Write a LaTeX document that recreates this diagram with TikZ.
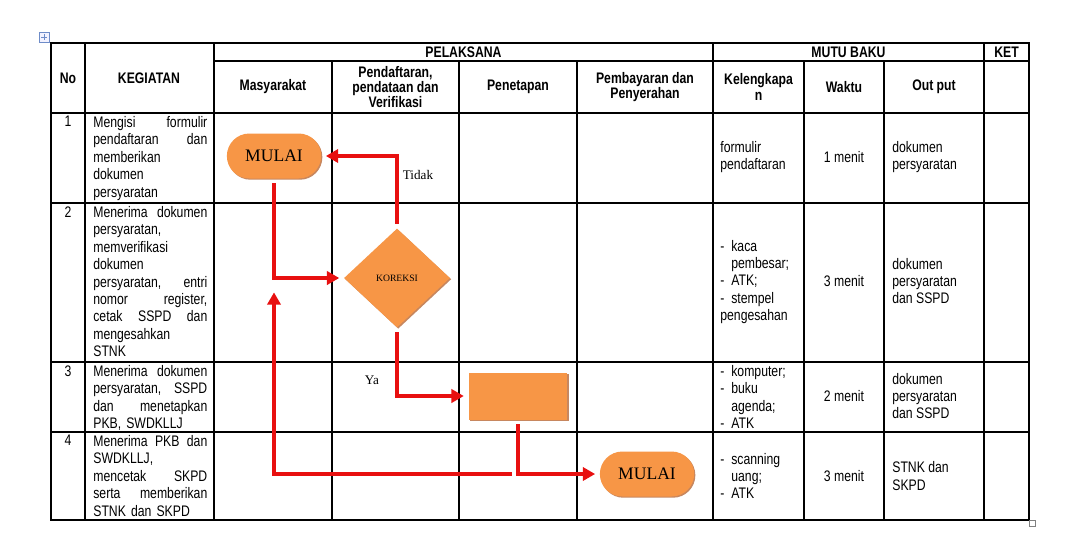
\documentclass[tikz,border=0pt]{standalone}
\usepackage{fontspec}
\setmainfont{Liberation Serif}
\newfontfamily\cellfont{Liberation Sans}[FakeStretch=0.8]
\usepackage{tikz}
\usetikzlibrary{shapes.geometric, shapes.misc, arrows.meta, shadows, calc}
\definecolor{wdorange}{RGB}{247,150,70}
\definecolor{wdred}{RGB}{232,16,16}
\definecolor{wdshade}{RGB}{185,105,55}
\definecolor{wdblue}{RGB}{110,140,200}
\newcommand{\lsdash}{\makebox[0.22cm][l]{-}}
\newcommand{\lsind}{\hspace*{0.22cm}}
\tikzset{
  cell/.style={font=\cellfont\fontsize{8.7}{9.9}\selectfont, inner sep=0pt, align=left},
  head/.style={font=\cellfont\bfseries\fontsize{8.7}{8.8}\selectfont, inner sep=0pt, align=center},
  shade/.style={drop shadow={shadow xshift=0.7pt, shadow yshift=-0.7pt, fill=wdshade, opacity=0.8}},
  term/.style={rounded rectangle, fill=wdorange, shade, minimum width=2.12cm, minimum height=0.9cm, font=\fontsize{10}{12}\selectfont},
  flow/.style={draw=wdred, line width=1.9pt, -{Triangle[length=7pt,width=7.5pt]}, shorten >=2.5pt, shorten <=2.5pt},
  lbl/.style={font=\fontsize{7.5}{9}\selectfont, inner sep=0pt}
}
\begin{document}
\begin{tikzpicture}[x=0.02cm, y=-0.02cm]
\fill[white] (0,0) rectangle (1071,535);
\useasboundingbox (0,0) rectangle (1071,535);

% Table grid
\draw[line width=0.6pt] (51,43) rectangle (1029,520);
\draw[line width=0.6pt] (214,61) -- (1029,61);
\foreach \y in {113,203,362,432}
  \draw[line width=0.6pt] (51,\y) -- (1029,\y);
\foreach \x in {85,214,713,984}
  \draw[line width=0.6pt] (\x,43) -- (\x,520);
\foreach \x in {332,459,577,804,884}
  \draw[line width=0.6pt] (\x,61) -- (\x,520);

% Word handles
\draw[wdblue, fill=blue!5] (39,32) rectangle (49,42);
\draw[wdblue, line width=0.4pt] (41,37) -- (47,37) (44,34) -- (44,40);
\draw[gray, line width=0.4pt] (1029,520) rectangle (1035,526);

% Header
\node[head] (hno) at (68,78) {No};
\node[head] (hkeg) at (149,78) {KEGIATAN};
\node[head] (hpel) at (463.5,52) {PELAKSANA};
\node[head] (hmutu) at (848.5,52) {MUTU BAKU};
\node[head] (hket) at (1006.5,52) {KET};
\node[head] (hmas) at (273,87) {Masyarakat};
\node[head] (hpend) at (395.5,87) {Pendaftaran,\\pendataan dan\\Verifikasi};
\node[head] (hpen) at (518,87) {Penetapan};
\node[head] (hpemb) at (645,87) {Pembayaran dan\\Penyerahan};
\node[head] (hkel) at (758.5,87) {Kelengkapa\\n};
\node[head] (hwak) at (844,87) {Waktu};
\node[head] (hout) at (934,87) {Out put};

% No and Kegiatan
\node[cell, anchor=north] (n1) at (68,116) {1};
\node[cell, anchor=north] (n2) at (68,206) {2};
\node[cell, anchor=north] (n3) at (68,365) {3};
\node[cell, anchor=north] (n4) at (68,435) {4};
\node[cell, anchor=north west, text width=2.28cm] (k1) at (93,116)
  {Mengisi\hfill formulir\\pendaftaran\hfill dan\\memberikan\\dokumen\\persyaratan};
\node[cell, anchor=north west, text width=2.28cm] (k2) at (93,206)
  {Menerima\hfill dokumen\\persyaratan,\\memverifikasi\\dokumen\\persyaratan,\hfill entri\\nomor\hfill register,\\cetak\hfill SSPD\hfill dan\\mengesahkan\\STNK};
\node[cell, anchor=north west, text width=2.28cm] (k3) at (93,365)
  {Menerima\hfill dokumen\\persyaratan,\hfill SSPD\\dan\hfill menetapkan\\PKB, SWDKLLJ};
\node[cell, anchor=north west, text width=2.28cm] (k4) at (93,435)
  {Menerima\hfill PKB\hfill dan\\SWDKLLJ,\\mencetak\hfill SKPD\\serta\hfill memberikan\\STNK dan SKPD};

% Mutu baku
\node[cell, anchor=west] (l1) at (720,157) {formulir\\pendaftaran};
\node[cell, anchor=west] (l2) at (720,282) {\lsdash kaca\\\lsind pembesar;\\\lsdash ATK;\\\lsdash stempel\\pengesahan};
\node[cell, anchor=west] (l3) at (720,397) {\lsdash komputer;\\\lsdash buku\\\lsind agenda;\\\lsdash ATK};
\node[cell, anchor=west] (l4) at (720,476) {\lsdash scanning\\\lsind uang;\\\lsdash ATK};
\node[cell] (w1) at (844,157) {1 menit};
\node[cell] (w2) at (844,281) {3 menit};
\node[cell] (w3) at (844,396) {2 menit};
\node[cell] (w4) at (844,476) {3 menit};
\node[cell, anchor=west] (o1) at (892,157) {dokumen\\persyaratan};
\node[cell, anchor=west] (o2) at (892,281) {dokumen\\persyaratan\\dan SSPD};
\node[cell, anchor=west] (o3) at (892,396) {dokumen\\persyaratan\\dan SSPD};
\node[cell, anchor=west] (o4) at (892,476) {STNK dan\\SKPD};

% Flowchart
\node[term] (mulai) at (274,156) {MULAI};
\node[diamond, fill=wdorange, shade, minimum width=2.12cm, minimum height=1.98cm, inner sep=0pt,
  font=\fontsize{5.5}{6}\selectfont] (koreksi) at (397,278) {KOREKSI};
\node[rectangle, fill=wdorange, shade, minimum width=1.98cm, minimum height=0.94cm] (tetap) at (518,396) {};
\node[term] (selesai) at (647,474) {MULAI};

\draw[flow] (koreksi.north) |- (mulai.east);
\draw[flow] (mulai.south) |- (koreksi.west);
\draw[flow] (koreksi.south) |- (tetap.west);
\draw[flow] (tetap.south) |- (selesai.west);
\coordinate (balik) at ($(tetap.south |- selesai.west)+(-6,0)$);
\coordinate (naik) at ($(mulai.south |- koreksi.west)+(0,10)$);
\draw[flow, shorten <=0pt] (balik) -| (naik);

\node[lbl] (tidak) at (418,175) {Tidak};
\node[lbl] (ya) at (372,380) {Ya};
\end{tikzpicture}
\end{document}
